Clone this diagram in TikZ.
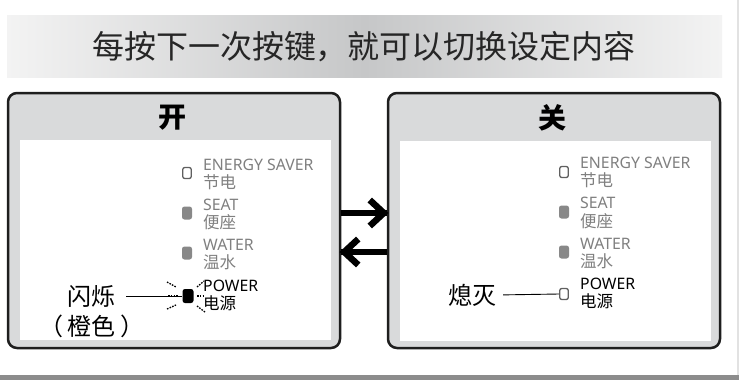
\documentclass[tikz,border=0pt]{standalone}
\usepackage{fontspec}
\setmainfont{Noto Sans}
\newfontfamily\cjk{Noto Sans CJK SC}
\usetikzlibrary{calc}
\definecolor{bandlight}{HTML}{F3F3F3}
\definecolor{banddark}{HTML}{C6C7C8}
\definecolor{panelgrey}{HTML}{D9DADB}
\definecolor{edge}{HTML}{1E1E1E}
\definecolor{labelgrey}{HTML}{808080}
\definecolor{ledgrey}{HTML}{888888}
\definecolor{ledline}{HTML}{606060}
\definecolor{footgrey}{HTML}{8C8C8C}
\definecolor{sidegrey}{HTML}{E2E2E2}
\tikzset{
  panelbox/.style={draw=edge, line width=2.5pt, fill=panelgrey, rounded corners=9pt,
    minimum width=332pt, minimum height=255pt, inner sep=0pt},
  innerbox/.style={fill=white, draw=none, minimum width=311pt, minimum height=200pt, inner sep=0pt},
  headtext/.style={font=\cjk\bfseries\fontsize{28}{28}\selectfont, text=black, inner sep=0pt},
  engl/.style={anchor=base west, inner sep=0pt, font=\fontsize{15.8}{15.8}\selectfont},
  chin/.style={anchor=base west, inner sep=0pt, font=\cjk\fontsize{16.5}{16.5}\selectfont},
  ledempty/.style={draw=ledline, line width=1.3pt, fill=white, rounded corners=2pt,
    minimum width=8.5pt, minimum height=11pt, inner sep=0pt},
  ledfull/.style={fill=ledgrey, draw=none, rounded corners=2.5pt,
    minimum width=10pt, minimum height=13pt, inner sep=0pt},
  ledon/.style={fill=black, draw=none, rounded corners=2.5pt,
    minimum width=11pt, minimum height=14pt, inner sep=0pt},
  bigcjk/.style={font=\cjk\fontsize{24}{24}\selectfont, inner sep=0pt},
  thinline/.style={draw=black, line width=0.9pt},
  ray/.style={draw=black, line width=1.3pt, dash pattern=on 1.6pt off 1.2pt},
  bar/.style={draw=black, line width=6.5pt, line join=miter, line cap=butt},
}
\begin{document}
\begin{tikzpicture}[x=1pt,y=-1pt]
\useasboundingbox (0,0) rectangle (739,383);
% side and foot lines
\fill[sidegrey] (736.5,0) rectangle (738.5,375);
\fill[footgrey] (0,375) rectangle (739,380);
% title band
\shade[left color=bandlight, right color=bandlight, middle color=banddark] (7,15) rectangle (722,77);
\node[inner sep=0pt, text=black!85] (title) at (364,46.5)
  {\cjk\fontsize{32}{32}\selectfont 每按下一次按键，就可以切换设定内容};

% panels
\node[panelbox] (onbox) at (174,220.5) {};
\node[innerbox] (onin) at (175.5,240) {};
\node[headtext] (onhead) at (172,118) {开};
\node[panelbox] (offbox) at (554,220.5) {};
\node[innerbox] (offin) at (555,240.5) {};
\node[headtext] (offhead) at (552,118) {关};

% arrows between panels
\coordinate (ya) at (0,213);
\coordinate (yb) at (0,252);
\draw[bar] (onbox.east |- ya) -- (offbox.west |- ya);
\draw[bar] ($(offbox.west |- ya)+(-17,-13)$) -- ($(offbox.west |- ya)+(-3,0)$) -- ($(offbox.west |- ya)+(-17,13)$);
\draw[bar] (offbox.west |- yb) -- (onbox.east |- yb);
\draw[bar] ($(onbox.east |- yb)+(17,-13)$) -- ($(onbox.east |- yb)+(3,0)$) -- ($(onbox.east |- yb)+(17,13)$);

% left panel LEDs and labels
\node[ledempty] (onled1) at (187,173) {};
\node[engl, text=labelgrey] (ones1) at (203,170) {ENERGY SAVER};
\node[chin, text=labelgrey] (onzh1) at (203,188) {节电};
\node[ledfull] (onled2) at (187,213) {};
\node[engl, text=labelgrey] (ones2) at (203,210) {SEAT};
\node[chin, text=labelgrey] (onzh2) at (203,228) {便座};
\node[ledfull] (onled3) at (187,253) {};
\node[engl, text=labelgrey] (ones3) at (203,250) {WATER};
\node[chin, text=labelgrey] (onzh3) at (203,268) {温水};
\node[ledon] (onled4) at (188,296) {};
\node[engl, text=black] (ones4) at (203,291) {POWER};
\node[chin, text=black] (onzh4) at (203,309) {电源};

% blink rays
\draw[ray] ($(onled4)+(-21,-14)$) -- ($(onled4)+(-12,-9)$);
\draw[ray] ($(onled4)+(-21,13)$) -- ($(onled4)+(-12,9)$);
\draw[ray] ($(onled4)+(9,-9)$) -- ($(onled4)+(16,-15)$);
\draw[ray] ($(onled4)+(9,0)$) -- ($(onled4)+(16,0)$);
\draw[ray] ($(onled4)+(9,10)$) -- ($(onled4)+(17,16)$);
\draw[ray] ($(onled4)+(-20,0)$) -- ($(onled4)+(-10,0)$);

\node[bigcjk] (flash) at (91,296) {闪烁};
\node[bigcjk] (orange) at (92,326) {（\hspace{5pt}橙色\hspace{5pt}）};
\draw[thinline, shorten <=11pt] (flash.east) -- (onled4.west);

% right panel LEDs and labels
\node[ledempty] (offled1) at (564,172) {};
\node[engl, text=labelgrey] (offes1) at (580,168) {ENERGY SAVER};
\node[chin, text=labelgrey] (offzh1) at (580,186.5) {节电};
\node[ledfull] (offled2) at (564,212) {};
\node[engl, text=labelgrey] (offes2) at (580,208.5) {SEAT};
\node[chin, text=labelgrey] (offzh2) at (580,227) {便座};
\node[ledfull] (offled3) at (564,252) {};
\node[engl, text=labelgrey] (offes3) at (580,249) {WATER};
\node[chin, text=labelgrey] (offzh3) at (580,267) {温水};
\node[ledempty] (offled4) at (564,294) {};
\node[engl, text=black] (offes4) at (580,289.5) {POWER};
\node[chin, text=black] (offzh4) at (580,307.5) {电源};

\node[bigcjk] (dark) at (472,295) {熄灭};
\draw[thinline, shorten <=7pt] (dark.east) -- (offled4.west);
\end{tikzpicture}
\end{document}
